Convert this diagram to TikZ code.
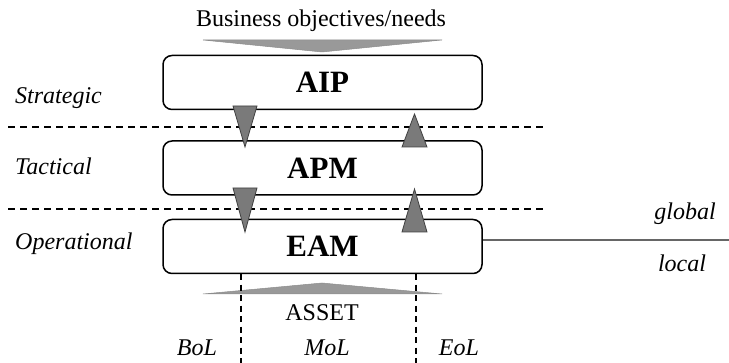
\documentclass[tikz,border=0pt]{standalone}
\usepackage{fontspec}
\setmainfont{Liberation Serif}
\begin{document}
\begin{tikzpicture}[x=1pt,y=-1pt,
  lvl/.style={draw=black, line width=1.5pt, rounded corners=9pt, minimum width=319pt, minimum height=54pt, inner sep=0pt, font=\fontsize{31}{31}\selectfont\bfseries},
  sidelbl/.style={anchor=base west, inner sep=0pt, font=\fontsize{24}{24}\selectfont\itshape},
  txt/.style={anchor=base, inner sep=0pt, font=\fontsize{24}{24}\selectfont},
  itxt/.style={anchor=base, inner sep=0pt, font=\fontsize{24}{24}\selectfont\itshape},
  sepline/.style={dash pattern=on 7pt off 5pt, line width=1.5pt},
  lifeline/.style={dash pattern=on 6pt off 4.5pt, line width=1.3pt},
  flowtri/.style={fill=black!52, draw=black!75, line width=0.8pt},
  widetri/.style={fill=black!40, draw=black!45, line width=0.5pt}
]
\useasboundingbox (0,0) rectangle (729,363);

% title and wide arrows
\node[txt] (biz) at (321,27) {Business objectives/needs};
\fill[widetri] (203,40) -- (442,40) -- (322,52) -- cycle;

% level boxes
\node[lvl] (aip) at (322.5,82.5) {AIP};
\node[lvl] (apm) at (322.5,168) {APM};
\node[lvl] (eam) at (322.5,246.5) {EAM};

% separators
\draw[sepline] (8,127) -- (543,127);
\draw[sepline] (8,209) -- (543,209);

% flow triangles
\filldraw[flowtri] (233,106) -- (257,106) -- (245,147) -- cycle;
\filldraw[flowtri] (233,188) -- (257,188) -- (245,232) -- cycle;
\filldraw[flowtri] (402,147) -- (427,147) -- (414.5,114) -- cycle;
\filldraw[flowtri] (402,232) -- (427,232) -- (414.5,189) -- cycle;

% side labels
\node[sidelbl] (strat) at (15,104) {Strategic};
\node[sidelbl] (tact) at (15,175) {Tactical};
\node[sidelbl] (oper) at (15,250) {Operational};

% global / local
\coordinate (rt) at (729,240);
\draw[black!60, line width=1.2pt] (eam.east |- rt) -- (rt);
\node[itxt] (glob) at (685,220) {global};
\node[itxt] (loc) at (682,272) {local};

% asset
\fill[widetri] (203,294) -- (442,294) -- (322,283) -- cycle;
\node[txt] (asset) at (322,321) {ASSET};
\coordinate (b1) at (241,363);
\coordinate (b2) at (416,363);
\draw[lifeline] (eam.south -| b1) -- (b1);
\draw[lifeline] (eam.south -| b2) -- (b2);
\node[itxt] (bol) at (197,356) {BoL};
\node[itxt] (mol) at (327,356) {MoL};
\node[itxt] (eol) at (459,356) {EoL};
\end{tikzpicture}
\end{document}
